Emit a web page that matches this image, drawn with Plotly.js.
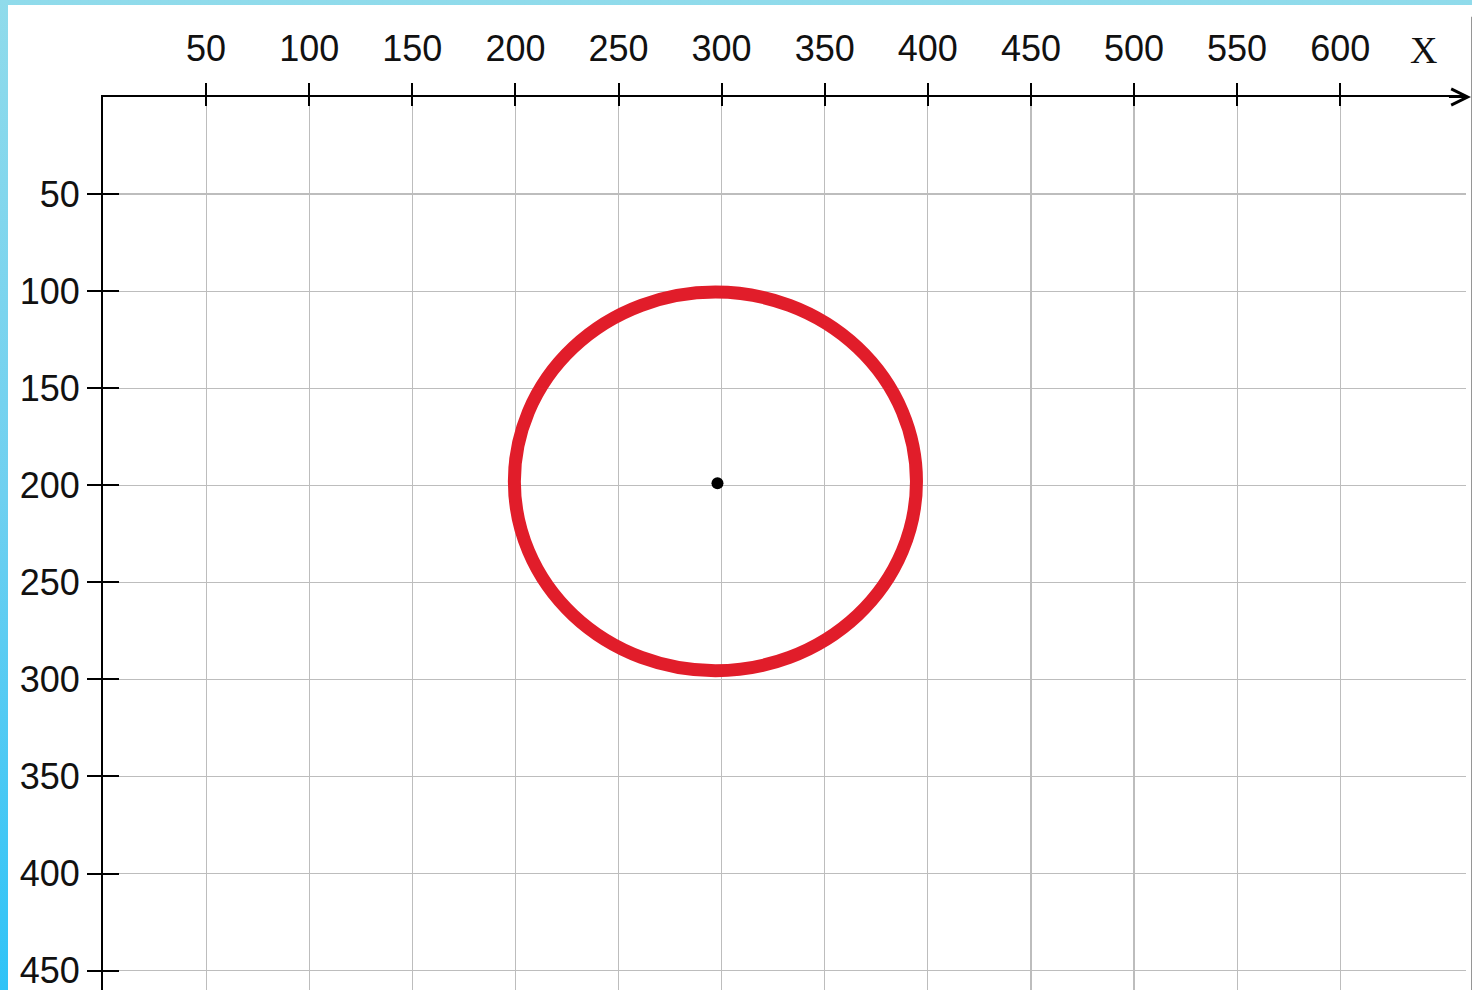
<!DOCTYPE html>
<html>
<head>
<meta charset="utf-8">
<script src="https://cdn.plot.ly/plotly-3.0.1.min.js"></script>
<style>
  html, body { margin:0; padding:0; width:1472px; height:990px; overflow:hidden;
    background: linear-gradient(to bottom, #90dbeb 0%, #6fd0f0 50%, #2fc3f7 100%); }
  #chart { position:absolute; left:8px; top:5px; width:1464px; height:985px; background:#fff; }
</style>
</head>
<body>
<div id="chart"></div>
<script>
// Data
const xTicks = [50, 100, 150, 200, 250, 300, 350, 400, 450, 500, 550, 600];
const yTicks = [50, 100, 150, 200, 250, 300, 350, 400, 450];
const circleCenter = [297, 198];   // [x, y]
const circleRadius = [97.5];
const dotX = [298];
const dotY = [199];

const labelFont = {family: "'Liberation Sans Narrow', 'Liberation Sans', Arial, sans-serif", size: 36, color: '#111'};

const traces = [
  {x: dotX, y: dotY, type: 'scatter', mode: 'markers',
   marker: {color: '#000', size: 12}, hoverinfo: 'skip', showlegend: false},
  {x: [null], y: [null], xaxis: 'x2', yaxis: 'y2', type: 'scatter', mode: 'markers',
   hoverinfo: 'skip', showlegend: false}
];

const layout = {
  width: 1464, height: 985,
  margin: {l: 95, r: 6, t: 92, b: 0},
  paper_bgcolor: '#ffffff', plot_bgcolor: '#ffffff',
  showlegend: false,
  xaxis: {
    side: 'top', range: [0, 661], tickvals: xTicks, ticktext: xTicks.map(String),
    showgrid: true, gridcolor: '#bdbdbd', gridwidth: 1.2, zeroline: false,
    showline: true, linecolor: '#000', linewidth: 2,
    ticks: 'outside', ticklen: 12, tickwidth: 2, tickcolor: '#000',
    tickfont: labelFont, ticklabelstandoff: 8, ticklabeloverflow: 'allow', fixedrange: true
  },
  xaxis2: {
    overlaying: 'x', matches: 'x', side: 'top', anchor: 'y2',
    tickvals: xTicks, showticklabels: false, showgrid: false, zeroline: false,
    ticks: 'inside', ticklen: 9, tickwidth: 2, tickcolor: '#000', showline: false
  },
  yaxis: {
    range: [460, 0], tickvals: yTicks, ticktext: yTicks.map(String),
    showgrid: true, gridcolor: '#bdbdbd', gridwidth: 1.2, zeroline: false,
    showline: true, linecolor: '#000', linewidth: 2,
    ticks: 'outside', ticklen: 14, tickwidth: 2, tickcolor: '#000',
    tickfont: labelFont, ticklabelstandoff: 0, ticklabeloverflow: 'allow', fixedrange: true
  },
  yaxis2: {
    overlaying: 'y', matches: 'y', side: 'left', anchor: 'x2',
    tickvals: yTicks, showticklabels: false, showgrid: false, zeroline: false,
    ticks: 'inside', ticklen: 16, tickwidth: 2, tickcolor: '#000', showline: false
  },
  shapes: [
    {type: 'circle', xref: 'x', yref: 'y',
     x0: circleCenter[0] - circleRadius[0], x1: circleCenter[0] + circleRadius[0],
     y0: circleCenter[1] - circleRadius[0], y1: circleCenter[1] + circleRadius[0],
     line: {color: '#e11d2a', width: 13}, layer: 'above'},
    {type: 'line', xref: 'paper', yref: 'paper', x0: 1.0045, x1: 1.0045, y0: 0, y1: 1.09,
     line: {color: '#555', width: 1.5}}
  ],
  annotations: [
    {xref: 'paper', yref: 'paper', x: 1.004, y: 1, ax: -24, ay: 0,
     showarrow: true, arrowhead: 5, arrowsize: 1.6, arrowwidth: 2, arrowcolor: '#000', text: ''},
    {xref: 'paper', yref: 'paper', x: 0.969, y: 1.053, xanchor: 'center', yanchor: 'middle',
     showarrow: false, text: 'X',
     font: {family: "'Liberation Serif', 'Times New Roman', serif", size: 38, color: '#111'}}
  ]
};

Plotly.newPlot('chart', traces, layout, {displayModeBar: false, staticPlot: true});
</script>
</body>
</html>
